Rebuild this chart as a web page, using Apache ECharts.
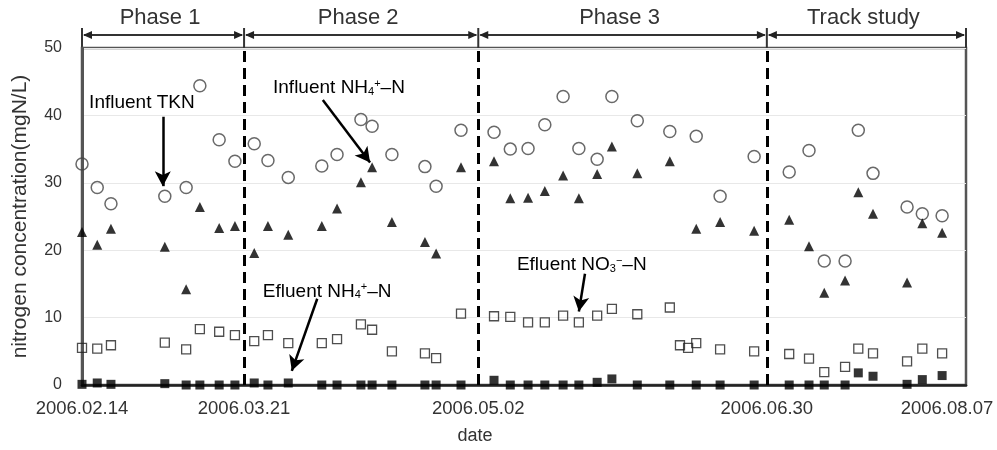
<!DOCTYPE html>
<html><head><meta charset="utf-8">
<script src="https://cdn.jsdelivr.net/npm/echarts@6/dist/echarts.min.js"></script>
<style>html,body{margin:0;padding:0;background:#fff}#c{width:997px;height:450px}</style>
</head><body><div id="c"></div>
<script>
// x position of each sample, in approx. days from 2006.02.14 along the chart's axis
const sampleDay = [0,3.0,5.7,16.3,20.5,23.2,27.0,30.1,33.9,36.6,40.6,47.2,50.2,54.9,57.1,61.0,67.5,69.7,74.6,81.1,84.3,87.8,91.1,94.7,97.8,101.4,104.3,109.3,115.7,117.7,119.3,120.9,125.6,132.3,139.2,143.1,146.1,150.2,152.8,155.7,162.4,165.4,169.3];
const influentTKN = [32.8,29.3,26.9,28.0,29.3,44.4,36.4,33.2,35.8,33.3,30.8,32.5,34.2,39.4,38.4,34.2,32.4,29.5,37.8,37.5,35.0,35.1,38.6,42.8,35.1,33.5,42.8,39.2,37.6,null,null,36.9,28.0,33.9,31.6,34.8,18.4,18.4,37.8,31.4,26.4,25.4,25.1];
const influentNH4 = [22.7,20.8,23.2,20.5,14.2,26.4,23.3,23.6,19.6,23.6,22.3,23.6,26.2,30.1,32.3,24.2,21.2,19.5,32.3,33.2,27.7,27.8,28.8,31.1,27.7,31.3,35.4,31.4,33.2,null,null,23.2,24.2,22.9,24.5,20.6,13.7,15.5,28.6,25.4,15.2,24.0,22.6];
const effluentNO3 = [5.5,5.4,5.9,6.3,5.3,8.3,7.9,7.4,6.5,7.4,6.2,6.2,6.8,9.0,8.2,5.0,4.7,4.0,10.6,10.2,10.1,9.3,9.3,10.3,9.3,10.3,11.3,10.5,11.5,5.9,5.5,6.2,5.3,5.0,4.6,3.9,1.9,2.7,5.4,4.7,3.5,5.4,4.7];
const effluentNH4 = [0.1,0.3,0.1,0.2,0,0,0,0,0.3,0,0.3,0,0,0,0,0,0,0,0,0.7,0,0,0,0,0,0.4,0.9,0,0,null,null,0,0,0,0,0,0,0,1.8,1.3,0.1,0.8,1.4];
const tickDays = [0, 31.9, 78.0, 134.8, 174];
const tickLabels = ['2006.02.14','2006.03.21','2006.05.02','2006.06.30','2006.08.07'];
const phaseBounds = [0, 31.9, 78.0, 134.8, 174];
const phaseNames = ['Phase 1','Phase 2','Phase 3','Track study'];

const FONT = "'Liberation Sans', Arial, sans-serif";
function pairs(ys){ return sampleDay.map((d,i)=> ys[i]==null ? null : [d, ys[i]]).filter(p=>p); }
function nearestIdx(v){ let b=0; tickDays.forEach((t,i)=>{ if(Math.abs(t-v)<Math.abs(tickDays[b]-v)) b=i; }); return b; }

const chart = echarts.init(document.getElementById('c'), null, {renderer:'canvas'});
const rich = {
  b:{fontSize:19, color:'#333', fontFamily:FONT},
  s:{fontSize:11, color:'#333', fontFamily:FONT, verticalAlign:'bottom', padding:[8,0,0,0]},
  p:{fontSize:11, color:'#333', fontFamily:FONT, verticalAlign:'top', padding:[0,0,8,0]}
};
const arrowLines = [
  [[15.9,39.8],[15.9,29.5]],
  [[47.4,42.3],[56.7,33.0]],
  [[46.3,12.8],[41.3,2.1]],
  [[99.0,16.5],[97.8,10.9]]
];
const notes = [
  {t:'{b|Influent TKN}', at:[1.4,41.9]},
  {t:'{b|Influent NH}{s|4}{p|+}{b|–N}', at:[37.6,44.1]},
  {t:'{b|Efluent NH}{s|4}{p|+}{b|–N}', at:[35.6,13.9]},
  {t:'{b|Efluent NO}{s|3}{p|−}{b|–N}', at:[85.6,17.8]}
];

chart.setOption({
  animation:false,
  backgroundColor:'#fff',
  grid:{left:82, right:31, top:48, bottom:63, show:true, borderColor:'#555', borderWidth:2.5},
  xAxis:{
    type:'value', min:0, max:174,
    name:'date', nameLocation:'middle', nameGap:42,
    nameTextStyle:{fontSize:18, color:'#333', fontFamily:FONT, padding:[0,98,0,0]},
    axisLine:{show:true, onZero:false, lineStyle:{color:'#222', width:2.5}},
    axisTick:{show:false},
    splitLine:{show:false},
    axisLabel:{
      customValues:tickDays, margin:14, fontSize:18.5, color:'#333', fontFamily:FONT,
      formatter:(v)=>{ const i=nearestIdx(v); return i===tickLabels.length-1 ? '{r|'+tickLabels[i]+'}' : tickLabels[i]; },
      rich:{r:{fontSize:18.5, color:'#333', fontFamily:FONT, padding:[0,38,0,0]}}
    }
  },
  yAxis:{
    type:'value', min:0, max:50, interval:10,
    name:'nitrogen concentration(mgN/L)', nameLocation:'middle', nameGap:51,
    nameTextStyle:{fontSize:21, color:'#333', fontFamily:FONT},
    axisLine:{show:true, lineStyle:{color:'#555', width:3}},
    axisTick:{show:false},
    axisLabel:{margin:20, fontSize:16, color:'#333', fontFamily:FONT},
    splitLine:{show:true, lineStyle:{color:'#e8e8e8', width:1}}
  },
  series:[
    {type:'scatter', name:'Influent TKN', data:pairs(influentTKN), symbol:'circle', symbolSize:12,
     itemStyle:{color:'rgba(255,255,255,0)', borderColor:'#444', borderWidth:1.5},
     markLine:{silent:true, symbol:'none', label:{show:false},
       lineStyle:{type:[11,6], width:3, color:'#000'},
       data:phaseBounds.slice(1,4).map(v=>({xAxis:v}))}},
    {type:'scatter', name:'Effluent NO3-N', data:pairs(effluentNO3), symbol:'rect', symbolSize:9,
     itemStyle:{color:'rgba(255,255,255,0)', borderColor:'#222', borderWidth:1.3}},
    {type:'scatter', name:'Influent NH4-N', data:pairs(influentNH4), symbol:'triangle', symbolSize:10,
     itemStyle:{color:'#000'}},
    {type:'scatter', name:'Effluent NH4-N', data:pairs(effluentNH4), symbol:'rect', symbolSize:9,
     itemStyle:{color:'#000'},
     markLine:{silent:true, symbol:['none','arrow'], symbolSize:[12,15], label:{show:false},
       lineStyle:{type:'solid', width:2.5, color:'#000'},
       data:arrowLines.map(a=>[{coord:a[0]},{coord:a[1]}])}}
  ]
});

const X = v => chart.convertToPixel({xAxisIndex:0}, v);
const Y = v => chart.convertToPixel({yAxisIndex:0}, v);
const g = [];
const topPx = Y(50), ay = topPx - 13;
for (let i=0;i<phaseNames.length;i++){
  const x1 = X(phaseBounds[i]), x2 = X(phaseBounds[i+1]);
  g.push({type:'line', shape:{x1:x1+2, y1:ay, x2:x2-2, y2:ay}, style:{stroke:'#333', lineWidth:2}});
  g.push({type:'polygon', shape:{points:[[x1+1,ay],[x1+10,ay-4],[x1+10,ay+4]]}, style:{fill:'#222'}});
  g.push({type:'polygon', shape:{points:[[x2-1,ay],[x2-10,ay-4],[x2-10,ay+4]]}, style:{fill:'#222'}});
  g.push({type:'text', x:(x1+x2)/2 - 3, y:topPx-30, style:{text:phaseNames[i], fontSize:22, fill:'#333', fontFamily:FONT, align:'center', verticalAlign:'middle'}});
}
phaseBounds.forEach(b=>{ const x=X(b); g.push({type:'line', shape:{x1:x, y1:topPx-20, x2:x, y2:topPx}, style:{stroke:'#333', lineWidth:2}}); });
notes.forEach(n=>{
  g.push({type:'text', x:X(n.at[0]), y:Y(n.at[1]), style:{text:n.t, rich:rich, align:'left', verticalAlign:'middle'}});
});
chart.setOption({graphic:g});
</script>
</body></html>
